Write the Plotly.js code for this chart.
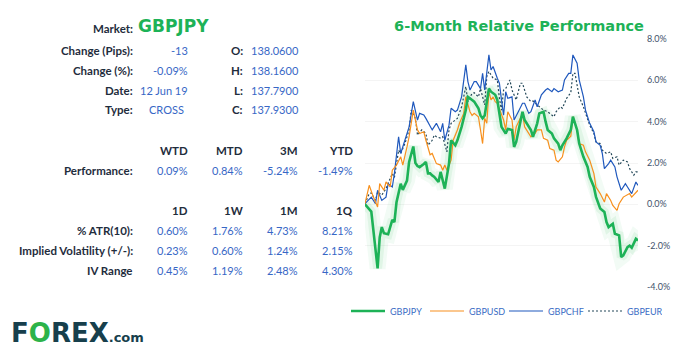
<!DOCTYPE html>
<html>
<head>
<meta charset="utf-8">
<script src="https://cdn.plot.ly/plotly-3.0.1.min.js"></script>
<style>html,body{margin:0;padding:0;background:#fff;}#chart{width:681px;height:354px;}</style>
</head>
<body>
<div id="chart"></div>
<script>
// ---- data ----
const market = 'GBPJPY';
const infoLabels = ['Change (Pips):', 'Change (%):', 'Date:', 'Type:'];
const infoValues = ['-13', '-0.09%', '12 Jun 19', 'CROSS'];
const ohlcLabels = ['O:', 'H:', 'L:', 'C:'];
const ohlcValues = ['138.0600', '138.1600', '137.7900', '137.9300'];
const perfHeaders = ['WTD', 'MTD', '3M', 'YTD'];
const perfValues = ['0.09%', '0.84%', '-5.24%', '-1.49%'];
const volHeaders = ['1D', '1W', '1M', '1Q'];
const volLabels = ['% ATR(10):', 'Implied Volatility (+/-):', 'IV Range'];
const atrValues = ['0.60%', '1.76%', '4.73%', '8.21%'];
const ivValues = ['0.23%', '0.60%', '1.24%', '2.15%'];
const ivRangeValues = ['0.45%', '1.19%', '2.48%', '4.30%'];

const seriesNames = ['GBPJPY', 'GBPUSD', 'GBPCHF', 'GBPEUR'];
const yTicks = [-4, -2, 0, 2, 4, 6, 8];

const jpyDays = [0,1,3,6,7,8,9,11,13,14,15,17,18,20,21,23,24,25,26,28,29,30,31,32,33,35,36,38,40,41,43,44,46,48,49,51,52,54,55,56,57,59,60,62,63,65,67,68,70,71,72,74,75,76,78,79,80,82,83,85,86,87,89,90,92,93,94,96,98,99,101,102,104,106,107,109,110,112,114,115,116,118,119,121,122,123,125,126,127,128,129,130];
const jpyPerf = [0.0,-0.1,-0.35,-3.1,-1.6,-1.1,-1.4,-1.45,-0.75,-0.86,0.1,1.0,0.7,1.15,2.05,2.8,2.0,1.85,1.8,1.95,2.05,1.5,1.5,1.4,1.33,1.08,1.57,0.76,1.97,3.1,2.86,3.1,3.75,4.56,5.2,5.05,4.97,4.65,4.3,4.16,4.3,5.6,5.45,5.3,5.05,3.75,3.43,3.65,3.6,2.78,3.02,4.0,4.48,4.08,3.75,3.6,3.27,3.92,4.4,4.48,4.0,3.6,3.43,3.19,2.94,2.62,2.86,3.19,3.6,4.24,3.6,2.94,2.3,1.81,1.33,0.84,0.36,-0.2,-0.37,-0.86,-1.1,-0.94,-1.42,-1.5,-2.55,-2.47,-2.07,-2.0,-2.1,-1.9,-1.67,-1.75];

const usdDays = [0,2,4,6,7,9,10,12,13,15,17,18,20,21,23,25,26,28,29,31,32,34,36,37,38,39,41,42,44,45,47,48,50,51,52,54,55,56,57,58,59,60,61,62,63,65,66,67,68,70,71,72,74,75,76,77,78,79,81,82,84,85,87,88,90,91,92,94,95,96,98,99,101,102,104,105,107,109,110,112,114,115,117,118,120,121,123,125,126,127,129,130];
const usdPerf = [0.03,0.92,0.35,-0.13,1.0,0.68,1.08,0.84,1.65,1.9,2.3,1.9,2.78,3.27,4.56,3.6,3.43,3.51,3.1,2.4,2.46,1.97,1.9,1.65,1.9,1.65,2.14,3.1,3.6,3.92,4.4,5.2,4.48,4.3,4.4,4.24,3.6,2.94,4.16,3.92,5.45,5.05,5.2,4.97,4.89,4.32,4.08,3.6,4.48,4.08,3.1,3.75,4.16,4.4,3.75,3.6,3.43,3.27,3.43,3.6,3.6,3.19,3.1,2.7,2.62,2.14,2.05,2.3,2.78,3.1,3.3,4.24,3.6,2.94,2.86,2.54,2.14,1.49,0.84,0.52,0.11,0.52,0.19,-0.05,-0.29,0.03,0.35,0.44,0.52,0.35,0.55,0.68];

const chfDays = [0,2,3,5,6,8,10,11,13,14,16,17,19,21,23,25,26,28,29,31,32,34,36,37,38,40,41,43,44,46,48,49,50,52,53,55,56,57,58,59,60,61,63,64,65,66,67,68,70,71,73,75,76,78,79,81,82,84,86,87,89,90,92,94,95,97,98,99,101,102,104,105,107,109,110,112,113,114,116,117,119,120,122,124,125,127,129,130];
const chfPerf = [0.03,0.28,0.35,0.03,0.68,0.19,0.35,1.0,0.84,1.49,3.27,2.46,3.1,3.75,4.97,4.08,4.4,4.32,4.16,3.8,3.6,3.92,3.51,3.92,3.1,3.83,4.65,4.48,4.56,5.2,6.75,5.94,5.53,5.94,5.94,5.6,6.34,5.53,6.34,7.23,6.5,6.67,6.1,5.86,5.05,4.32,5.45,5.13,5.2,4.08,4.48,4.89,4.89,4.4,4.48,5.05,4.72,5.3,5.53,5.6,5.45,5.6,5.45,5.53,6.02,6.34,6.34,7.23,6.83,6.02,5.2,4.56,3.92,3.51,3.02,2.86,2.46,1.73,1.97,2.14,1.81,1.33,0.68,1.0,0.84,0.52,1.08,0.92];

const eurDays = [0,2,3,5,6,8,10,11,13,14,16,17,19,21,22,24,25,27,29,30,32,33,34,36,37,39,40,41,43,44,46,48,49,51,52,54,55,57,58,59,61,63,64,65,66,67,69,70,72,74,75,77,79,80,82,83,85,87,88,90,91,93,94,96,98,99,100,101,102,104,105,107,109,110,112,113,115,117,118,120,121,123,125,126,128,129,130];
const eurPerf = [0.03,0.52,0.55,0.19,0.6,0.45,0.76,1.0,1.49,1.3,2.62,2.46,2.94,3.6,4.56,4.16,3.35,3.6,3.43,2.86,3.1,3.35,3.27,3.2,3.27,2.54,3.6,3.92,4.08,4.16,4.72,5.7,4.97,5.37,5.4,5.2,5.6,4.81,6.18,6.43,6.1,6.02,5.13,4.56,5.53,5.6,6.02,5.53,5.05,5.86,5.86,5.2,4.97,5.0,4.81,4.72,4.56,4.48,4.4,4.24,4.48,4.72,4.65,5.13,5.4,6.34,6.34,5.77,5.2,4.72,4.4,3.83,3.43,3.02,2.94,2.62,2.46,2.54,2.22,2.3,1.9,2.14,2.05,1.73,1.41,1.57,1.57];

// ---- styles ----
const W = 681, H = 354;
const px = x => x / W;
const py = y => 1 - y / H;
const GREEN = '#1db257';
const LABEL = '#1f2d3d';
const VALUE = '#3767c6';
const FONT = 'Lato, "Open Sans", sans-serif';

const traces = [
  {x: jpyDays, y: jpyPerf, mode: 'lines', line: {color: 'rgba(40,185,90,0.06)', width: 16}, hoverinfo: 'skip', showlegend: false},
  {x: jpyDays, y: jpyPerf, mode: 'lines', line: {color: 'rgba(40,185,90,0.09)', width: 9}, hoverinfo: 'skip', showlegend: false},
  {x: eurDays, y: eurPerf, name: seriesNames[3], mode: 'lines', line: {color: '#25495a', width: 1.2, dash: '2px,2px'}, legendrank: 4},
  {x: chfDays, y: chfPerf, name: seriesNames[2], mode: 'lines', line: {color: '#1f58bd', width: 1.2}, legendrank: 3},
  {x: usdDays, y: usdPerf, name: seriesNames[1], mode: 'lines', line: {color: '#f7901e', width: 1.2}, legendrank: 2},
  {x: jpyDays, y: jpyPerf, name: seriesNames[0], mode: 'lines', line: {color: GREEN, width: 2.6}, legendrank: 1}
];

const ann = [];
function addText(text, x, y, opts) {
  const o = Object.assign({xanchor: 'right', font: {family: FONT, size: 11, color: VALUE}}, opts || {});
  const shift = o.xanchor === 'right' ? 3 : (o.xanchor === 'left' ? -3 : 0);
  ann.push(Object.assign({text: text, x: px(x + shift), y: py(y), xref: 'paper', yref: 'paper', showarrow: false,
    yanchor: 'middle'}, o));
}
const bold = (s) => '<b>' + s + '</b>';
const lab = {family: FONT, size: 11.5, color: LABEL};
// market header
addText(bold('Market:'), 132, 29, {font: lab});
addText(bold(market), 139, 26, {xanchor: 'left', font: {family: 'DejaVu Sans', size: 17, color: GREEN}});
const infoY = [50, 70, 90, 109];
infoLabels.forEach((l, i) => {
  addText(bold(l), 132, infoY[i], {font: lab});
  if (i === 3) addText(infoValues[i], 166, infoY[i], {xanchor: 'center'});
  else addText(infoValues[i], 187, infoY[i]);
  addText(bold(ohlcLabels[i]), 242, infoY[i], {font: lab});
  addText(ohlcValues[i], 252, infoY[i], {xanchor: 'left'});
});
const colX = [187, 242, 297, 352];
perfHeaders.forEach((h, i) => {
  addText(bold(h), colX[i], 150, {font: lab});
  addText(perfValues[i], colX[i], 170);
});
addText(bold('Performance:'), 132, 170, {font: lab});
volHeaders.forEach((h, i) => addText(bold(h), colX[i], 210, {font: lab}));
const volRows = [atrValues, ivValues, ivRangeValues];
const volY = [230, 250, 270];
volLabels.forEach((l, r) => {
  addText(bold(l), 132, volY[r], {font: lab});
  volRows[r].forEach((v, i) => addText(v, colX[i], volY[r]));
});
// logo
addText('<b>F<span style="color:#2db34a">O</span>REX<span style="font-size:13px">.com</span></b>', 12, 333,
  {xanchor: 'left', font: {family: 'DejaVu Sans', size: 26, color: '#173f4c'}});

const layout = {
  width: W, height: H,
  margin: {l: 0, r: 0, t: 0, b: 0, autoexpand: false},
  paper_bgcolor: '#fff', plot_bgcolor: '#fff',
  title: {text: '<b>6-Month Relative Performance</b>', x: px(519), xanchor: 'center', y: py(26), yanchor: 'middle',
    font: {family: 'DejaVu Sans', size: 14.5, color: GREEN}},
  xaxis: {domain: [px(365), px(638)], range: [0, 130], automargin: false, showgrid: false, zeroline: false, showticklabels: false, showline: false, ticks: ''},
  yaxis: {domain: [py(287), py(39)], range: [-4, 8], side: 'right', automargin: false, tickmode: 'array', tickvals: yTicks,
    ticktext: yTicks.map(v => v.toFixed(1) + '%'),
    showgrid: true, gridcolor: '#f4f4f4', zeroline: false, showline: false, ticks: '', ticklabelstandoff: 8,
    tickfont: {family: FONT, size: 9, color: '#42526a'}},
  showlegend: true,
  legend: {orientation: 'h', x: px(346), xanchor: 'left', y: py(311), yanchor: 'middle', itemwidth: 34,
    entrywidth: 30, font: {family: FONT, size: 9, color: '#3a6cc4'}, bgcolor: 'rgba(0,0,0,0)'},
  annotations: ann
};
Plotly.newPlot('chart', traces, layout, {displayModeBar: false, staticPlot: true});
</script>
</body>
</html>
